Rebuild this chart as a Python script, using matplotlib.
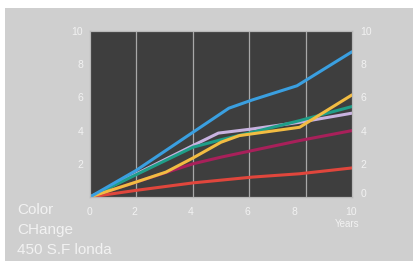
"""Color change chart: six series over 10 years on a dark panel."""
import matplotlib
matplotlib.use("Agg")
import matplotlib.pyplot as plt
from matplotlib.patches import Rectangle

plt.rcParams["font.family"] = ["Liberation Sans", "DejaVu Sans"]

# series (x in years, y value)
blue_x = [0, 1.76, 3.93, 5.3, 6.2, 7.9, 10]
blue_y = [0, 1.6, 3.9, 5.35, 5.85, 6.7, 8.75]
teal_x = [0, 3.93, 5.0, 6.2, 8.0, 10]
teal_y = [0, 3.0, 3.45, 3.9, 4.6, 5.45]
lav_x = [0, 3.93, 4.9, 6.2, 8.0, 10]
lav_y = [0, 3.1, 3.85, 4.1, 4.5, 5.05]
yellow_x = [0, 1.76, 2.9, 3.93, 5.0, 5.7, 8.0, 10]
yellow_y = [0, 0.9, 1.5, 2.35, 3.3, 3.7, 4.2, 6.15]
magenta_x = [0, 3.93, 5.0, 8.0, 10]
magenta_y = [0, 2.0, 2.4, 3.4, 4.0]
red_x = [0, 1.76, 3.93, 6.2, 8.0, 10]
red_y = [0, 0.4, 0.85, 1.2, 1.4, 1.75]

x_labels = ["0", "2", "4", "6", "8", "10"]
y_left_labels = ["2", "4", "6", "8", "10"]
y_right_labels = ["0", "2", "4", "6", "8", "10"]
caption = ["Color", "CHange", "450 S.F londa"]

bg = "#cfcfcf"
txt = "#f2f2f2"

fig = plt.figure(figsize=(4.14, 2.61), dpi=100)
fig.patch.set_facecolor("white")
fig.patches.append(Rectangle((5 / 414, 0), 1, (261 - 8) / 261, transform=fig.transFigure,
                             facecolor=bg, edgecolor="none", zorder=-10))

ax = fig.add_axes([90 / 414, 64 / 261, 262 / 414, 166 / 261])
ax.set_facecolor("#3e3e3e")
ax.set_xlim(0, 10)
ax.set_ylim(0, 10)

# grid (vertical lines sit a bit off the labels in the original)
ax.set_xticks([1.76, 3.93, 6.07, 8.24], minor=True)
ax.set_yticks([2, 4, 6, 8], minor=True)
ax.grid(which="minor", color="#a8a8a8", lw=0.9)
ax.tick_params(which="both", length=0)

ax.set_xticks([0, 1.68, 3.85, 6.0, 7.8, 9.96])
ax.set_xticklabels(x_labels, color=txt, fontsize=7.5)
ax.tick_params(axis="x", pad=7)
ax.set_yticks([2, 4, 6, 8, 10])
ax.set_yticklabels(y_left_labels, color=txt, fontsize=7.5)
ax.tick_params(axis="y", pad=5)

ax2 = ax.twinx()
ax2.set_ylim(0, 10)
ax2.set_yticks([0.25, 2, 4, 6, 8, 10])
ax2.set_yticklabels(y_right_labels, color=txt, fontsize=7.5)
ax2.tick_params(length=0, pad=6)

for a in (ax, ax2):
    for s in a.spines.values():
        s.set_color("#b8b8b8")
        s.set_linewidth(0.8)

lw = 2.2
ax.plot(red_x, red_y, color="#e0463c", lw=lw, solid_capstyle="round")
ax.plot(magenta_x, magenta_y, color="#a8205a", lw=lw, solid_capstyle="round")
ax.plot(lav_x, lav_y, color="#c8b2e0", lw=lw, solid_capstyle="round")
ax.plot(teal_x, teal_y, color="#1f9e88", lw=lw, solid_capstyle="round")
ax.plot(yellow_x, yellow_y, color="#f2bc42", lw=lw, solid_capstyle="round")
ax.plot(blue_x, blue_y, color="#3a9fe0", lw=lw, solid_capstyle="round")

fig.text(347 / 414, 1 - 224 / 261, "Years", color=txt, fontsize=7, ha="center", va="center")
for i, line in enumerate(caption):
    fig.text(17 / 414, 1 - (210 + 20 * i) / 261, line, color=txt, fontsize=11,
             ha="left", va="center")

fig.savefig("out.png", dpi=100, facecolor=fig.get_facecolor())
